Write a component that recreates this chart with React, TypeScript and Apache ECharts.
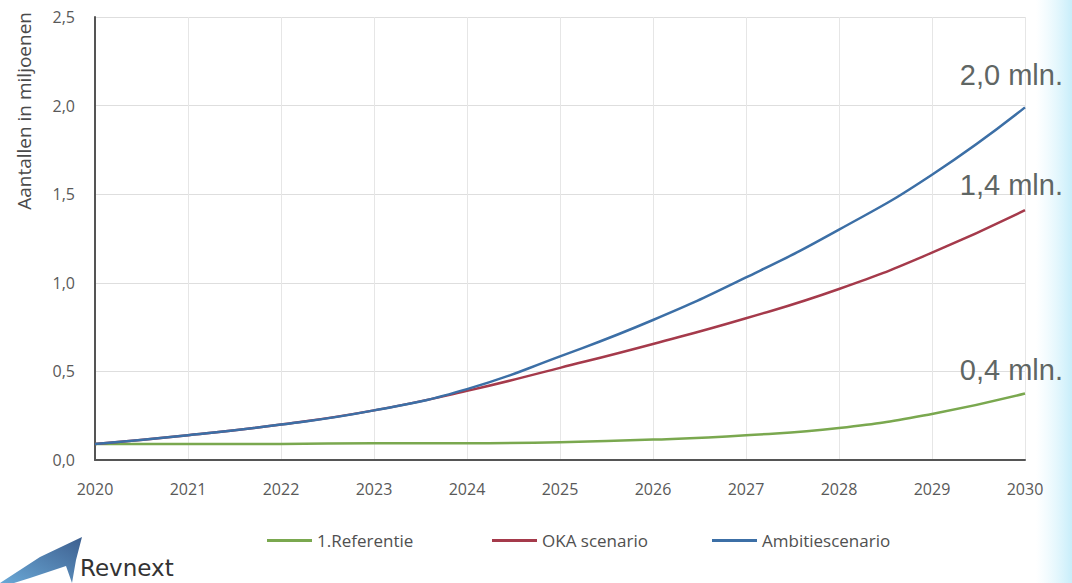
import React, { useEffect, useRef } from "react";
import * as echarts from "echarts";

const years = ["2020", "2021", "2022", "2023", "2024", "2025", "2026", "2027", "2028", "2029", "2030"];
const referentie = [0.09, 0.09, 0.09, 0.095, 0.095, 0.1, 0.115, 0.14, 0.18, 0.26, 0.375];
const oka = [0.09, 0.14, 0.2, 0.28, 0.39, 0.52, 0.655, 0.8, 0.965, 1.17, 1.41];
const ambitie = [0.09, 0.14, 0.2, 0.28, 0.4, 0.585, 0.79, 1.03, 1.3, 1.61, 1.99];
const annotationTexts = ["2,0 mln.", "1,4 mln.", "0,4 mln."];
const annotationTops = [60, 170, 355];

const FONT = "'Open Sans', sans-serif";

export default function App() {
  const ref = useRef<HTMLDivElement>(null);
  useEffect(() => {
    if (!ref.current) return;
    const chart = echarts.init(ref.current, undefined, { renderer: "svg" });
    const legendBase = {
      bottom: 29,
      itemWidth: 45,
      itemHeight: 3,
      icon: "rect",
      textStyle: { fontFamily: FONT, fontSize: 17, color: "#505050" },
      itemGap: 2,
    };
    chart.setOption({
      animation: false,
      backgroundColor: "#ffffff",
      grid: { left: 95, right: 47, top: 17, bottom: 123 },
      legend: [
        { ...legendBase, data: ["1.Referentie"], left: 262 },
        { ...legendBase, data: ["OKA scenario"], left: 487 },
        { ...legendBase, data: ["Ambitiescenario"], left: 707 },
      ],
      xAxis: {
        type: "category",
        data: years,
        boundaryGap: false,
        axisLine: { lineStyle: { color: "#555555", width: 2 } },
        axisTick: { show: false },
        axisLabel: { fontFamily: FONT, fontSize: 16, color: "#595959", margin: 21 },
        splitLine: { show: true, lineStyle: { color: "#e6e6e6", width: 1 } },
      },
      yAxis: {
        type: "value",
        min: 0,
        max: 2.5,
        interval: 0.5,
        axisLine: { show: true, lineStyle: { color: "#555555", width: 2 } },
        axisTick: { show: false },
        axisLabel: {
          fontFamily: FONT,
          fontSize: 16,
          color: "#595959",
          margin: 20,
          formatter: (v: number) => v.toFixed(1).replace(".", ","),
        },
        splitLine: { show: true, lineStyle: { color: "#dedede", width: 1 } },
      },
      series: [
        {
          name: "1.Referentie",
          type: "line",
          data: referentie,
          smooth: true,
          showSymbol: false,
          lineStyle: { color: "#7aa84f", width: 2.5 },
          itemStyle: { color: "#7aa84f" },
          z: 3,
        },
        {
          name: "OKA scenario",
          type: "line",
          data: oka,
          smooth: true,
          showSymbol: false,
          lineStyle: { color: "#a53a4b", width: 2.5 },
          itemStyle: { color: "#a53a4b" },
          z: 4,
        },
        {
          name: "Ambitiescenario",
          type: "line",
          data: ambitie,
          smooth: true,
          showSymbol: false,
          lineStyle: { color: "#3c6fa6", width: 2.5 },
          itemStyle: { color: "#3c6fa6" },
          z: 5,
        },
      ],
      graphic: [
        {
          type: "rect",
          left: 1036,
          top: 0,
          shape: { width: 36, height: 583 },
          style: {
            fill: new echarts.graphic.LinearGradient(0, 0, 1, 0, [
              { offset: 0, color: "rgba(220,245,252,0)" },
              { offset: 1, color: "rgba(200,238,250,1)" },
            ]),
          },
          z: -1,
        },
        ...annotationTexts.map((t, i) => ({
          type: "text",
          right: 9,
          top: annotationTops[i],
          z: 10,
          style: {
            text: t,
            fontFamily: "'Liberation Sans', Arial, sans-serif",
            fontSize: 29,
            fill: "#5f6664",
          },
        })),
        {
          type: "text",
          left: 14,
          top: 12,
          rotation: Math.PI / 2,
          style: {
            text: "Aantallen in miljoenen",
            fontFamily: FONT,
            fontSize: 19,
            fill: "#4a4a4a",
          },
        },
        {
          type: "polygon",
          shape: {
            points: [
              [0, 583],
              [40, 557],
              [82, 537],
              [76, 560],
              [72, 583],
              [66, 566],
              [30, 578],
              [14, 583],
            ],
          },
          style: {
            fill: new echarts.graphic.LinearGradient(0, 1, 1, 0, [
              { offset: 0, color: "#6aa8d6" },
              { offset: 1, color: "#3d5f8f" },
            ]),
          },
        },
        {
          type: "text",
          left: 80,
          top: 556,
          style: {
            text: "Revnext",
            fontFamily: "'DejaVu Sans', sans-serif",
            fontSize: 23,
            fill: "#333333",
          },
        },
      ],
    });
    return () => chart.dispose();
  }, []);
  return (
    <div
      ref={ref}
      style={{ position: "fixed", left: 0, top: 0, width: 1072, height: 583 }}
    />
  );
}
